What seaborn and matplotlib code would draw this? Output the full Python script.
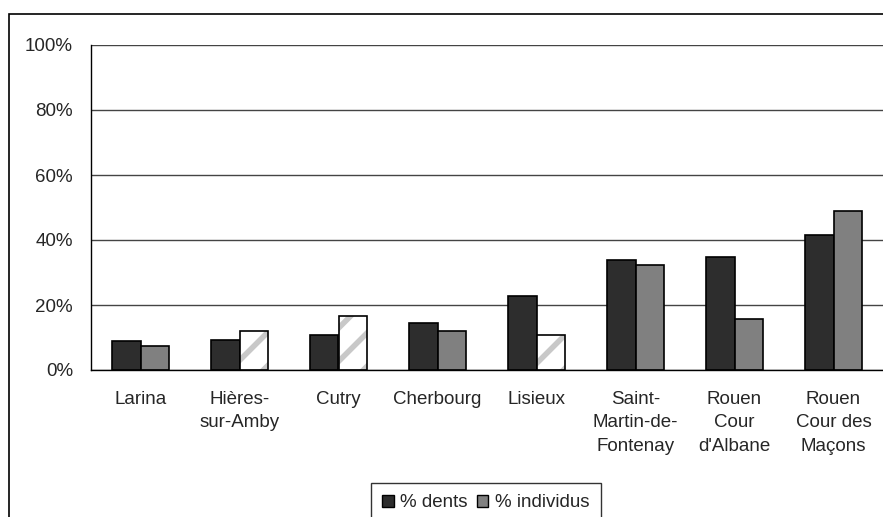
import pandas as pd
import seaborn as sns
import matplotlib.pyplot as plt
from matplotlib.patches import Rectangle
from matplotlib.ticker import PercentFormatter

sites = ["Larina", "Hières-\nsur-Amby", "Cutry", "Cherbourg", "Lisieux",
         "Saint-\nMartin-de-\nFontenay", "Rouen\nCour\nd'Albane", "Rouen\nCour des\nMaçons"]
dents = [8.9, 9.3, 10.8, 14.5, 22.7, 33.7, 34.7, 41.5]
individus = [7.5, 12.1, 16.7, 12.1, 10.7, 32.3, 15.8, 48.9]
# bars shown hatched in the original (individus)
hatched = [False, True, True, False, True, False, False, False]

df = pd.DataFrame({
    "site": sites * 2,
    "val": dents + individus,
    "serie": ["% dents"] * 8 + ["% individus"] * 8,
})

sns.set_style("white")
plt.rcParams["font.family"] = ["Liberation Sans", "DejaVu Sans"]
plt.rcParams["hatch.linewidth"] = 4
plt.rcParams["hatch.color"] = "#c8c8c8"
fs = 13.5

fig = plt.figure(figsize=(8.83, 5.17), dpi=100)
ax = fig.add_axes([91 / 883, 1 - 370 / 517, 792 / 883, 325 / 517])

sns.barplot(data=df, x="site", y="val", hue="serie", order=sites,
            palette=["#2d2d2d", "#808080"], width=0.58, gap=0,
            edgecolor="black", linewidth=1.2, legend=False, ax=ax)

# individus bars that are hatched in the reference
ind_bars = ax.containers[1]
for bar, h in zip(ind_bars, hatched):
    if h:
        bar.set_facecolor("white")
        bar.set_hatch("/")
        bar.set_edgecolor("#c8c8c8")
        bar.set_linewidth(0)
        ax.add_patch(Rectangle((bar.get_x(), 0), bar.get_width(), bar.get_height(),
                               fill=False, edgecolor="black", linewidth=1.2, zorder=3))

ax.set_ylim(0, 100)
ax.set_xlim(-0.5, 7.5)
ax.set_yticks([0, 20, 40, 60, 80, 100])
ax.yaxis.set_major_formatter(PercentFormatter(decimals=0))
ax.set_xticks([i + 0.5 for i in range(-1, 8)], minor=True)
ax.tick_params(axis="x", which="major", length=0, pad=15, labelsize=fs)
ax.tick_params(axis="x", which="minor", length=5, width=1, direction="out", color="black")
ax.tick_params(axis="y", length=5, width=1, direction="out", color="black", labelsize=fs, pad=8)
ax.set_xticklabels(sites, linespacing=1.5)
ax.set_xlabel("")
ax.set_ylabel("")
ax.yaxis.grid(True, color="#444444", linewidth=1)
ax.set_axisbelow(True)
for s in ["top", "right"]:
    ax.spines[s].set_visible(False)
for s in ["left", "bottom"]:
    ax.spines[s].set_color("black")
    ax.spines[s].set_linewidth(1)

# legend
handles = [Rectangle((0, 0), 1, 1, facecolor="#2d2d2d", edgecolor="black", linewidth=1),
           Rectangle((0, 0), 1, 1, facecolor="#808080", edgecolor="black", linewidth=1)]
leg = fig.legend(handles, ["% dents", "% individus"], loc="upper center",
                 bbox_to_anchor=(486 / 883, 1 - 483 / 517), ncol=2, frameon=True,
                 fancybox=False, edgecolor="black", fontsize=fs, handlelength=0.6,
                 handleheight=0.6, handletextpad=0.35, columnspacing=0.5, borderpad=0.6,
                 borderaxespad=0)
leg.get_frame().set_linewidth(1)

# outer chart frame
fig.patches.append(Rectangle((9 / 883, -0.1), 2, 1 - 14 / 517 + 0.1,
                             transform=fig.transFigure, fill=False,
                             edgecolor="black", linewidth=1.2))

fig.savefig("out.png", dpi=100)
